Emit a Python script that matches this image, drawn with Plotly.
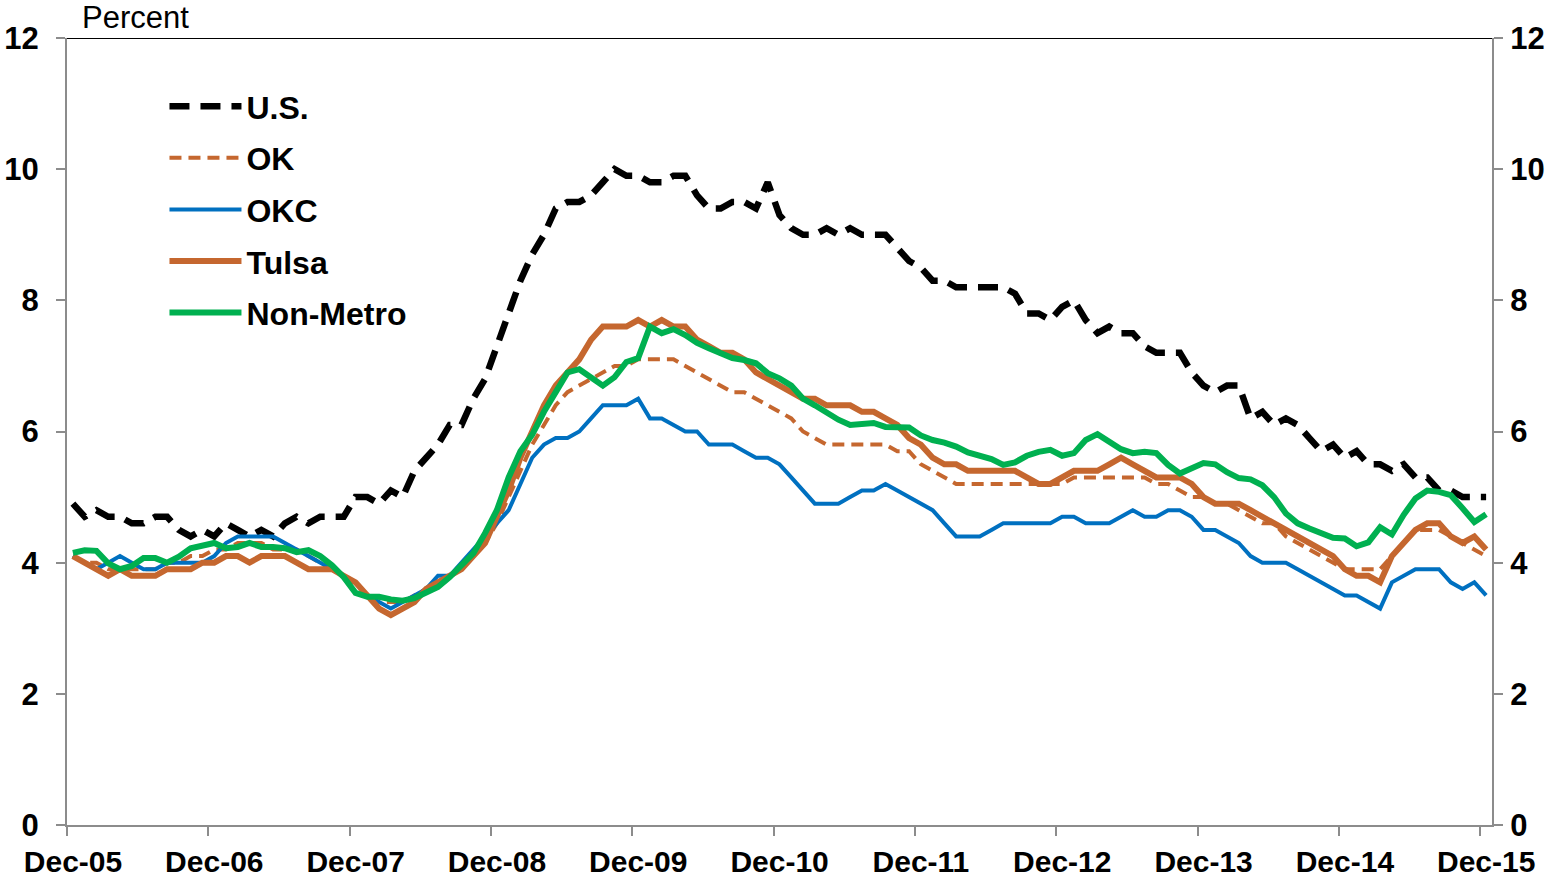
import pandas as pd
import plotly.graph_objects as go

# ---------------- data ----------------
months = [d.strftime("%b-%y") for d in pd.date_range("2005-12-01", "2015-12-01", freq="MS")]
tick_labels = ["Dec-05", "Dec-06", "Dec-07", "Dec-08", "Dec-09", "Dec-10",
               "Dec-11", "Dec-12", "Dec-13", "Dec-14", "Dec-15"]

us = [4.9,
      4.7, 4.8, 4.7, 4.7, 4.6, 4.6, 4.7, 4.7, 4.5, 4.4, 4.5, 4.4,
      4.6, 4.5, 4.4, 4.5, 4.4, 4.6, 4.7, 4.6, 4.7, 4.7, 4.7, 5.0,
      5.0, 4.9, 5.1, 5.0, 5.4, 5.6, 5.8, 6.1, 6.1, 6.5, 6.8, 7.3,
      7.8, 8.3, 8.7, 9.0, 9.4, 9.5, 9.5, 9.6, 9.8, 10.0, 9.9, 9.9,
      9.8, 9.8, 9.9, 9.9, 9.6, 9.4, 9.4, 9.5, 9.5, 9.4, 9.8, 9.3,
      9.1, 9.0, 9.0, 9.1, 9.0, 9.1, 9.0, 9.0, 9.0, 8.8, 8.6, 8.5,
      8.3, 8.3, 8.2, 8.2, 8.2, 8.2, 8.2, 8.1, 7.8, 7.8, 7.7, 7.9,
      8.0, 7.7, 7.5, 7.6, 7.5, 7.5, 7.3, 7.2, 7.2, 7.2, 6.9, 6.7,
      6.6, 6.7, 6.7, 6.2, 6.3, 6.1, 6.2, 6.1, 5.9, 5.7, 5.8, 5.6,
      5.7, 5.5, 5.5, 5.4, 5.5, 5.3, 5.3, 5.1, 5.1, 5.0, 5.0, 5.0]

ok = [4.1,
      4.0, 4.0, 3.9, 3.9, 3.9, 3.9, 3.9, 4.0, 4.0, 4.1, 4.1, 4.2,
      4.2, 4.3, 4.3, 4.3, 4.2, 4.2, 4.2, 4.1, 4.0, 3.9, 3.8, 3.7,
      3.5, 3.4, 3.4, 3.4, 3.5, 3.6, 3.7, 3.8, 3.9, 4.1, 4.3, 4.6,
      5.0, 5.4, 5.8, 6.1, 6.4, 6.6, 6.7, 6.8, 6.9, 7.0, 7.0, 7.1,
      7.1, 7.1, 7.1, 7.0, 6.9, 6.8, 6.7, 6.6, 6.6, 6.5, 6.4, 6.3,
      6.2, 6.0, 5.9, 5.8, 5.8, 5.8, 5.8, 5.8, 5.8, 5.7, 5.7, 5.5,
      5.4, 5.3, 5.2, 5.2, 5.2, 5.2, 5.2, 5.2, 5.2, 5.2, 5.2, 5.2,
      5.3, 5.3, 5.3, 5.3, 5.3, 5.3, 5.3, 5.2, 5.2, 5.1, 5.0, 5.0,
      4.9, 4.9, 4.8, 4.7, 4.6, 4.6, 4.4, 4.3, 4.2, 4.1, 4.0, 3.9,
      3.9, 3.9, 3.9, 4.1, 4.3, 4.5, 4.5, 4.5, 4.4, 4.3, 4.2, 4.1]

okc = [4.1,
       4.0, 3.9, 4.0, 4.1, 4.0, 3.9, 3.9, 4.0, 4.0, 4.0, 4.0, 4.1,
       4.3, 4.4, 4.4, 4.4, 4.4, 4.3, 4.2, 4.1, 4.0, 3.9, 3.8, 3.7,
       3.5, 3.4, 3.3, 3.4, 3.5, 3.6, 3.8, 3.8, 4.0, 4.2, 4.4, 4.6,
       4.8, 5.2, 5.6, 5.8, 5.9, 5.9, 6.0, 6.2, 6.4, 6.4, 6.4, 6.5,
       6.2, 6.2, 6.1, 6.0, 6.0, 5.8, 5.8, 5.8, 5.7, 5.6, 5.6, 5.5,
       5.3, 5.1, 4.9, 4.9, 4.9, 5.0, 5.1, 5.1, 5.2, 5.1, 5.0, 4.9,
       4.8, 4.6, 4.4, 4.4, 4.4, 4.5, 4.6, 4.6, 4.6, 4.6, 4.6, 4.7,
       4.7, 4.6, 4.6, 4.6, 4.7, 4.8, 4.7, 4.7, 4.8, 4.8, 4.7, 4.5,
       4.5, 4.4, 4.3, 4.1, 4.0, 4.0, 4.0, 3.9, 3.8, 3.7, 3.6, 3.5,
       3.5, 3.4, 3.3, 3.7, 3.8, 3.9, 3.9, 3.9, 3.7, 3.6, 3.7, 3.5]

tulsa = [4.1,
         4.0, 3.9, 3.8, 3.9, 3.8, 3.8, 3.8, 3.9, 3.9, 3.9, 4.0, 4.0,
         4.1, 4.1, 4.0, 4.1, 4.1, 4.1, 4.0, 3.9, 3.9, 3.9, 3.8, 3.7,
         3.5, 3.3, 3.2, 3.3, 3.4, 3.6, 3.7, 3.8, 3.9, 4.1, 4.3, 4.7,
         5.1, 5.6, 6.0, 6.4, 6.7, 6.9, 7.1, 7.4, 7.6, 7.6, 7.6, 7.7,
         7.6, 7.7, 7.6, 7.6, 7.4, 7.3, 7.2, 7.2, 7.1, 6.9, 6.8, 6.7,
         6.6, 6.5, 6.5, 6.4, 6.4, 6.4, 6.3, 6.3, 6.2, 6.1, 5.9, 5.8,
         5.6, 5.5, 5.5, 5.4, 5.4, 5.4, 5.4, 5.4, 5.3, 5.2, 5.2, 5.3,
         5.4, 5.4, 5.4, 5.5, 5.6, 5.5, 5.4, 5.3, 5.3, 5.3, 5.2, 5.0,
         4.9, 4.9, 4.9, 4.8, 4.7, 4.6, 4.5, 4.4, 4.3, 4.2, 4.1, 3.9,
         3.8, 3.8, 3.7, 4.1, 4.3, 4.5, 4.6, 4.6, 4.4, 4.3, 4.4, 4.2]

non_metro = [4.15,
             4.19, 4.18, 3.99, 3.90, 3.95, 4.07, 4.07, 4.00, 4.09, 4.22, 4.27, 4.30,
             4.22, 4.24, 4.30, 4.24, 4.24, 4.22, 4.16, 4.19, 4.10, 3.96, 3.78, 3.54,
             3.48, 3.48, 3.44, 3.42, 3.46, 3.54, 3.63, 3.78, 3.96, 4.14, 4.45, 4.80,
             5.30, 5.70, 5.95, 6.30, 6.60, 6.90, 6.95, 6.83, 6.70, 6.83, 7.06, 7.12,
             7.60, 7.50, 7.56, 7.47, 7.35, 7.27, 7.20, 7.12, 7.09, 7.04, 6.89, 6.81,
             6.70, 6.50, 6.40, 6.28, 6.18, 6.10, 6.12, 6.13, 6.07, 6.07, 6.06, 5.94,
             5.87, 5.83, 5.77, 5.68, 5.63, 5.58, 5.49, 5.53, 5.63, 5.69, 5.72, 5.63,
             5.67, 5.87, 5.96, 5.85, 5.73, 5.67, 5.69, 5.67, 5.49, 5.36, 5.43, 5.52,
             5.50, 5.38, 5.29, 5.27, 5.18, 5.00, 4.75, 4.60, 4.52, 4.45, 4.38, 4.37,
             4.25, 4.31, 4.54, 4.43, 4.73, 4.98, 5.10, 5.08, 5.03, 4.83, 4.62, 4.74]

series_names = ["U.S.", "OK", "OKC", "Tulsa", "Non-Metro"]
series_values = [us, ok, okc, tulsa, non_metro]

# ---------------- styles ----------------
ORANGE = "#C5672F"
styles = [
    dict(color="black", width=6.5, dash="20px,11px"),
    dict(color=ORANGE, width=4, dash="12px,7px"),
    dict(color="#0070C0", width=4),
    dict(color=ORANGE, width=6),
    dict(color="#00B050", width=6),
]
# last series is drawn against the mirrored right-hand axis (same 0-12 scale)
y_refs = ["y", "y", "y", "y", "y2"]

AXIS_GRAY = "#8C8C8C"
FONT = "Liberation Sans, Arial, sans-serif"

x_idx = list(range(len(months)))

fig = go.Figure()
for name, vals, st, yr in zip(series_names, series_values, styles, y_refs):
    fig.add_trace(go.Scatter(
        x=x_idx, y=vals, name=name, mode="lines", line=st, yaxis=yr,
        legendgroup=name, customdata=months,
        hovertemplate="%{customdata}: %{y}<extra>" + name + "</extra>",
    ))

first_tick = [i for i, m in enumerate(months) if m in tick_labels]

yaxis_common = dict(
    range=[0, 12], tickmode="linear", tick0=0, dtick=2,
    ticks="outside", ticklen=9, tickwidth=2, tickcolor=AXIS_GRAY,
    showline=True, linecolor=AXIS_GRAY, linewidth=2,
    showgrid=False, zeroline=False, automargin=False,
    tickfont=dict(family=FONT, size=31, color="black", weight="bold"),
)

fig.update_layout(
    width=1560, height=879,
    margin=dict(l=67, r=68, t=38, b=54, autoexpand=False),
    paper_bgcolor="white", plot_bgcolor="white",
    font=dict(family=FONT, size=30, color="black"),
    showlegend=True,
    legend=dict(
        x=0.0684, y=0.948, xanchor="left", yanchor="top",
        font=dict(family=FONT, size=32, color="black", weight="bold"),
        bgcolor="rgba(0,0,0,0)", tracegroupgap=7, itemwidth=72,
    ),
    xaxis=dict(
        range=[-0.5, len(months) - 0.5],
        tickmode="array",
        tickvals=[i - 0.5 for i in first_tick],
        ticktext=tick_labels,
        ticklabelshift=6,
        ticks="outside", ticklen=9, tickwidth=2, tickcolor=AXIS_GRAY,
        showline=True, linecolor=AXIS_GRAY, linewidth=2,
        showgrid=False, zeroline=False, automargin=False,
        tickfont=dict(family=FONT, size=30, color="black", weight="bold"),
    ),
    yaxis=dict(**yaxis_common, ticklabelstandoff=11),
    yaxis2=dict(**yaxis_common, overlaying="y", side="right", anchor="x",
                ticklabelstandoff=1),
    shapes=[dict(type="line", xref="x domain", yref="y", x0=0, x1=1, y0=12, y1=12,
                 line=dict(color="black", width=2))],
    annotations=[dict(text="Percent", xref="paper", yref="paper", x=0.009, y=1.0,
                      xanchor="left", yanchor="bottom", showarrow=False, yshift=1,
                      font=dict(family=FONT, size=31, color="black"))],
)

fig.write_html(
    "out.html",
    config={"displayModeBar": False},
    post_script="document.body.style.margin='0';document.body.style.overflow='hidden';",
)
